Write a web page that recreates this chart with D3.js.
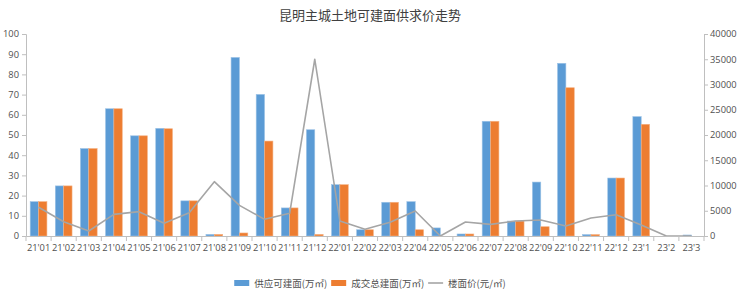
<!DOCTYPE html>
<html lang="zh">
<head>
<meta charset="UTF-8">
<title>昆明主城土地可建面供求价走势</title>
<script src="https://cdn.jsdelivr.net/npm/d3@7.8.5/dist/d3.min.js"></script>
<style>
    body{
        margin:0;
        background:#fff;
        font-family:"Noto Sans CJK SC", "Noto Sans", sans-serif;
    }
    svg{display:block;}
</style>
</head>
<body>
<div id="chart"></div>
<script>
// months on the x axis
const months = ["21'01","21'02","21'03","21'04","21'05","21'06","21'07","21'08","21'09","21'10","21'11","21'12",
                "22'01","22'02","22'03","22'04","22'05","22'06","22'07","22'08","22'09","22'10","22'11","22'12",
                "23'1","23'2","23'3"];

// supply of buildable area (万㎡)
const supply = [17, 24.8, 43.3, 63, 49.6, 53.3, 17.4, 0.8, 88.4, 70.1, 13.9, 52.6,
                25.4, 3.1, 16.7, 17, 4, 1, 56.8, 7.4, 26.7, 85.5, 0.7, 28.7,
                59.1, 0, 0.5];

// transacted buildable area (万㎡)
const deal = [17, 24.8, 43.3, 63, 49.6, 53.1, 17.4, 0.8, 1.5, 47, 13.9, 0.8,
              25.4, 3.1, 16.7, 3.1, 0, 1, 56.8, 7.4, 4.6, 73.4, 0.7, 28.7,
              55.3, 0, 0];

// floor price (元/㎡), right axis
const price = [5700, 2830, 990, 4290, 4820, 2510, 4620, 10760, 6070, 3300, 4490, 35000,
               2970, 1320, 2710, 4950, 0, 2770, 2310, 2970, 3170, 1980, 3560, 4220,
               2180, 0, 0];

const leftTicks = [0,10,20,30,40,50,60,70,80,90,100];
const rightTicks = [0,5000,10000,15000,20000,25000,30000,35000,40000];

const W = 740, H = 297;
const margin = {top:34, right:36, bottom:61, left:26};
const innerW = W - margin.left - margin.right;
const innerH = H - margin.top - margin.bottom;

const blue = "#5B9BD5", orange = "#ED7D31", gray = "#A5A5A5";
const axisColor = "#BFBFBF", textColor = "#505050";
const numFont = "'Open Sans', 'Noto Sans', sans-serif";

const svg = d3.select("#chart").append("svg")
    .attr("width", W)
    .attr("height", H);

// title
svg.append("text")
    .attr("x", 370)
    .attr("y", 20)
    .attr("text-anchor", "middle")
    .style("font-size", "13px")
    .style("fill", "#404040")
    .text("昆明主城土地可建面供求价走势");

const g = svg.append("g")
    .attr("transform", `translate(${margin.left},${margin.top})`);

// scales
const x0 = d3.scaleBand().domain(months).range([0, innerW]).padding(0);
const bw = x0.bandwidth();
const x1 = d3.scaleBand().domain(["supply","deal"]).range([bw/6, bw - bw/6]).padding(0);
const yL = d3.scaleLinear().domain([0,100]).range([innerH, 0]);
const yR = d3.scaleLinear().domain([0,40000]).range([innerH, 0]);

// bars
const rows = months.map((m,i) => ({m, supply: supply[i], deal: deal[i]}));
const groups = g.selectAll(".grp")
    .data(rows)
    .enter()
    .append("g")
    .attr("transform", d => `translate(${x0(d.m)},0)`);

groups.selectAll("rect")
    .data(d => [{k:"supply", v:d.supply}, {k:"deal", v:d.deal}])
    .enter()
    .append("rect")
    .attr("x", d => x1(d.k))
    .attr("y", d => yL(d.v))
    .attr("width", x1.bandwidth())
    .attr("height", d => innerH - yL(d.v))
    .attr("fill", d => d.k === "supply" ? blue : orange)
    .attr("stroke", d => d.v > 0 ? (d.k === "supply" ? "#9DC3E6" : "#F4B183") : "none")
    .attr("stroke-width", 0.6);

// price line
const line = d3.line()
    .x((d,i) => x0(months[i]) + bw/2)
    .y(d => yR(d));

g.append("path")
    .datum(price)
    .attr("fill", "none")
    .attr("stroke", gray)
    .attr("stroke-width", 1.6)
    .attr("stroke-linejoin", "round")
    .attr("d", line);

// left axis
const axL = g.append("g")
    .call(d3.axisLeft(yL).tickValues(leftTicks).tickSize(4).tickPadding(3));
// right axis
const axR = g.append("g")
    .attr("transform", `translate(${innerW},0)`)
    .call(d3.axisRight(yR).tickValues(rightTicks).tickSize(4).tickPadding(2).tickFormat(d3.format("d")));
// bottom axis: ticks between categories
const axB = g.append("g")
    .attr("transform", `translate(0,${innerH})`)
    .call(d3.axisBottom(x0).tickSize(0).tickPadding(8));
axB.selectAll(".sep")
    .data(d3.range(months.length + 1))
    .enter()
    .append("line")
    .attr("x1", i => i * bw)
    .attr("x2", i => i * bw)
    .attr("y1", 0)
    .attr("y2", 5)
    .attr("stroke", axisColor);

[axL, axR, axB].forEach(ax => {
    ax.select(".domain").attr("stroke", axisColor);
    ax.selectAll(".tick line").attr("stroke", axisColor);
    ax.selectAll("text")
        .style("font-family", numFont)
        .style("font-size", "9.3px")
        .style("fill", textColor);
});

// legend
const legendItems = [
    {name:"供应可建面(万㎡)", color:blue, type:"rect"},
    {name:"成交总建面(万㎡)", color:orange, type:"rect"},
    {name:"楼面价(元/㎡)", color:gray, type:"line"}
];
const legend = svg.append("g");
let lx = 0;
legendItems.forEach(item => {
    const it = legend.append("g").attr("transform", `translate(${lx},0)`);
    if (item.type === "rect") {
        it.append("rect")
            .attr("x", 0).attr("y", -3)
            .attr("width", 15).attr("height", 6)
            .attr("fill", item.color);
    } else {
        it.append("line")
            .attr("x1", 0).attr("x2", 15)
            .attr("y1", 0).attr("y2", 0)
            .attr("stroke", item.color)
            .attr("stroke-width", 1.6);
    }
    const t = it.append("text")
        .attr("x", 20)
        .attr("y", 3.5)
        .style("font-size", "9.5px")
        .style("fill", textColor)
        .text(item.name);
    lx += 20 + t.node().getComputedTextLength() + 4;
});
legend.attr("transform", `translate(${370 - (lx - 4)/2},283)`);
</script>
</body>
</html>
